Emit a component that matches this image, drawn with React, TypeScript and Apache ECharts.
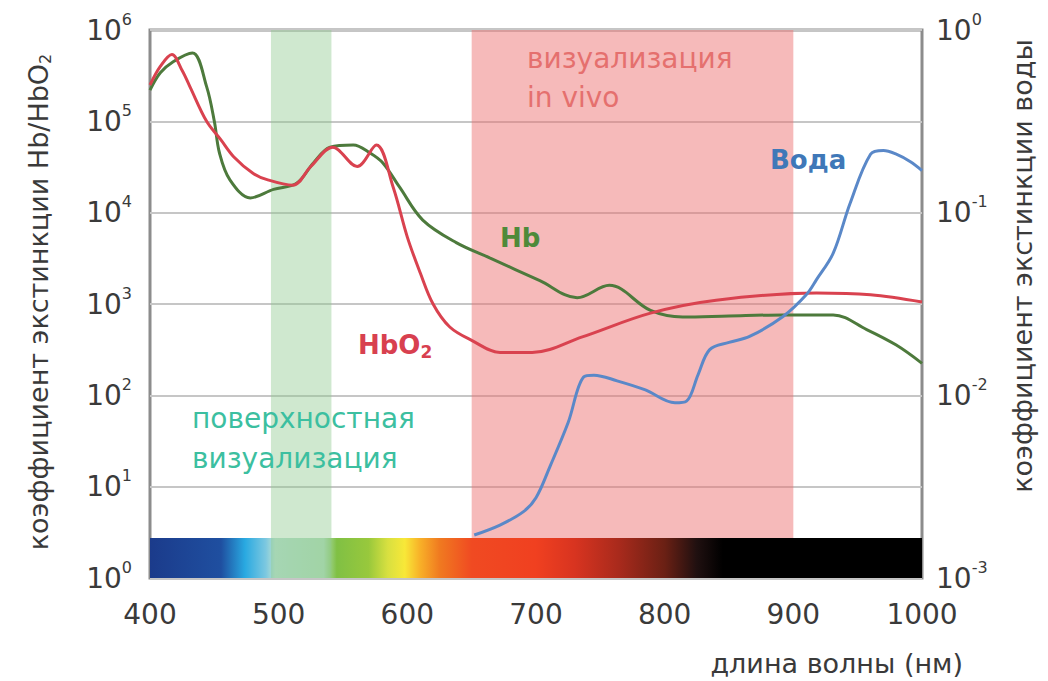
import React, { useEffect, useRef } from "react";
import * as echarts from "echarts";

// ---------- data ----------
const HB_NM = [400, 408, 418, 433, 444, 450, 454, 462, 478, 496, 514, 527, 540, 558, 571, 581, 594, 612, 638, 664, 703, 732, 757, 789, 814, 850, 892, 931, 957, 980, 1000];
const HB_VAL = [2.2e5, 3.4e5, 4.5e5, 5.6e5, 2.4e5, 1.0e5, 4.5e4, 2.3e4, 1.45e4, 1.8e4, 2.1e4, 3.5e4, 5.2e4, 5.5e4, 4.5e4, 3.5e4, 1.9e4, 8.3e3, 4.7e3, 3.2e3, 1.8e3, 1.17e3, 1.6e3, 850, 720, 740, 760, 760, 525, 355, 224];

const HBO2_NM = [400, 408, 417, 425, 431, 444, 455, 465, 480, 491, 511, 525, 542, 561, 576, 589, 600, 610, 620, 633, 650, 672, 697, 736, 789, 840, 918, 960, 1000];
const HBO2_VAL = [2.5e5, 4.0e5, 5.4e5, 3.6e5, 2.4e5, 1.0e5, 6.3e4, 4.1e4, 2.7e4, 2.3e4, 2.0e4, 3.2e4, 5.2e4, 3.2e4, 5.5e4, 1.9e4, 5.4e3, 2.2e3, 1.0e3, 560, 400, 295, 295, 436, 794, 1100, 1320, 1260, 1050];

const WATER_NM = [652, 672, 690, 700, 711, 725, 737, 745, 763, 785, 808, 817, 826, 835, 850, 866, 892, 910, 918, 931, 944, 960, 970, 980, 991, 1000];
const WATER_VAL = [1.72e-3, 1.95e-3, 2.3e-3, 2.75e-3, 4.1e-3, 7.1e-3, 1.26e-2, 1.29e-2, 1.2e-2, 1.07e-2, 9.1e-3, 9.3e-3, 1.3e-2, 1.78e-2, 1.95e-2, 2.1e-2, 2.7e-2, 3.55e-2, 4.3e-2, 6.0e-2, 0.112, 0.209, 0.219, 0.209, 0.19, 0.17];

const X_MIN = 400;
const X_MAX = 1000;
const Y_LEFT = [1, 1e6];
const Y_RIGHT = [1e-3, 1];
const SPECTRUM_TOP = 2.74; // top of the colour strip, in left-axis units
const SURFACE_BAND = [494, 541];
const INVIVO_BAND = [650, 900];

const SPECTRUM_STOPS: [number, string][] = [
  [0, "#1b3b8b"],
  [0.092, "#1f4fa0"],
  [0.123, "#29a9e1"],
  [0.15, "#7cc8e0"],
  [0.162, "#b8e0d0"],
  [0.225, "#b0dcb8"],
  [0.242, "#80c044"],
  [0.283, "#98c83c"],
  [0.308, "#d8e040"],
  [0.33, "#f8e838"],
  [0.35, "#f8b028"],
  [0.375, "#f07a20"],
  [0.417, "#f04a22"],
  [0.5, "#f04020"],
  [0.55, "#d83420"],
  [0.608, "#a82a1c"],
  [0.667, "#6a2014"],
  [0.708, "#201010"],
  [0.742, "#000000"],
  [1, "#000000"],
];

const FONT = "'DejaVu Sans', Verdana, sans-serif";
const TICK_COLOR = "#3a3a3a";
const TICK_SIZE = 28;
const NAME_SIZE = 27;
const NOTE_SIZE = 28;
const BOLD_SIZE = 26;

function zip(xs: number[], ys: number[]) {
  return xs.map((x, i) => [x, ys[i]]);
}

function powLabel(v: number) {
  const e = Math.round(Math.log10(v));
  return "{b|10}{s|" + (e < 0 ? "-" + Math.abs(e) : String(e)) + "}";
}

const labelRich = {
  b: { fontSize: TICK_SIZE, color: TICK_COLOR, fontFamily: FONT },
  s: { fontSize: 16, color: TICK_COLOR, fontFamily: FONT, padding: [0, 0, 22, 0] },
};

export default function App() {
  const ref = useRef<HTMLDivElement>(null);

  useEffect(() => {
    if (!ref.current) return;
    const chart = echarts.init(ref.current, undefined, { renderer: "svg" });

    const gradient = new echarts.graphic.LinearGradient(
      0, 0, 1, 0,
      SPECTRUM_STOPS.map(([offset, color]) => ({ offset, color }))
    );

    const lineBase = {
      type: "line",
      showSymbol: false,
      symbol: "none",
      smooth: 0.35,
      z: 2,
    };

    const option: any = {
      animation: false,
      backgroundColor: "#ffffff",
      grid: {
        left: 150,
        right: 126,
        top: 30,
        bottom: 103,
        show: true,
        borderColor: "#8c8c8c",
        borderWidth: 3,
        backgroundColor: "transparent",
      },
      xAxis: {
        type: "value",
        min: X_MIN,
        max: X_MAX,
        interval: 100,
        axisLine: { show: false },
        axisTick: { show: false },
        splitLine: { show: false },
        axisLabel: {
          fontSize: TICK_SIZE,
          color: TICK_COLOR,
          fontFamily: FONT,
          margin: 22,
          formatter: (v: number) => String(v),
        },
      },
      yAxis: [
        {
          type: "log",
          logBase: 10,
          min: Y_LEFT[0],
          max: Y_LEFT[1],
          splitNumber: 6,
          axisLine: { show: false },
          axisTick: { show: false },
          splitLine: { show: true, lineStyle: { color: "#c6c6c6", width: 2 } },
          axisLabel: { formatter: powLabel, rich: labelRich, margin: 18 },
        },
        {
          type: "log",
          logBase: 10,
          min: Y_RIGHT[0],
          max: Y_RIGHT[1],
          splitNumber: 3,
          position: "right",
          axisLine: { show: false },
          axisTick: { show: false },
          splitLine: { show: false },
          axisLabel: { formatter: powLabel, rich: labelRich, margin: 14 },
        },
      ],
      series: [
        {
          ...lineBase,
          name: "Hb",
          yAxisIndex: 0,
          data: zip(HB_NM, HB_VAL),
          lineStyle: { color: "#4d7a3c", width: 3 },
        },
        {
          ...lineBase,
          name: "HbO2",
          yAxisIndex: 0,
          data: zip(HBO2_NM, HBO2_VAL),
          lineStyle: { color: "#d9424f", width: 3 },
        },
        {
          ...lineBase,
          name: "Вода",
          yAxisIndex: 1,
          data: zip(WATER_NM, WATER_VAL),
          lineStyle: { color: "#5a88c8", width: 3 },
        },
        {
          name: "spectrum",
          type: "line",
          yAxisIndex: 0,
          data: [],
          silent: true,
          z: 3,
          markArea: {
            silent: true,
            itemStyle: { color: gradient, opacity: 1 },
            data: [[{ xAxis: X_MIN, yAxis: Y_LEFT[0] }, { xAxis: X_MAX, yAxis: SPECTRUM_TOP }]],
          },
        },
        {
          name: "bands",
          type: "line",
          yAxisIndex: 0,
          data: [],
          silent: true,
          z: 4,
          markArea: {
            silent: true,
            data: [
              [
                { xAxis: SURFACE_BAND[0], yAxis: Y_LEFT[0], itemStyle: { color: "rgba(140,200,140,0.42)" } },
                { xAxis: SURFACE_BAND[1], yAxis: Y_LEFT[1] },
              ],
              [
                { xAxis: INVIVO_BAND[0], yAxis: SPECTRUM_TOP, itemStyle: { color: "rgba(236,110,110,0.48)" } },
                { xAxis: INVIVO_BAND[1], yAxis: Y_LEFT[1] },
              ],
            ],
          },
        },
      ],
      graphic: [
        {
          type: "text", x: 527, y: 58, z: 10,
          style: { text: "визуализация", fill: "#e5706e", fontSize: NOTE_SIZE, fontFamily: FONT, verticalAlign: "middle", textVerticalAlign: "middle" },
        },
        {
          type: "text", x: 527, y: 97, z: 10,
          style: { text: "in vivo", fill: "#e5706e", fontSize: NOTE_SIZE, fontFamily: FONT, verticalAlign: "middle", textVerticalAlign: "middle" },
        },
        {
          type: "text", x: 770, y: 160, z: 10,
          style: { text: "Вода", fill: "#3f78b8", fontSize: BOLD_SIZE, fontWeight: "bold", fontFamily: FONT, verticalAlign: "middle", textVerticalAlign: "middle" },
        },
        {
          type: "text", x: 500, y: 238, z: 10,
          style: { text: "Hb", fill: "#4e8a3a", fontSize: BOLD_SIZE, fontWeight: "bold", fontFamily: FONT, verticalAlign: "middle", textVerticalAlign: "middle" },
        },
        {
          type: "text", x: 358, y: 345, z: 10,
          style: {
            text: "{a|HbO}{s|2}",
            fill: "#d8404f",
            fontFamily: FONT,
            verticalAlign: "middle",
            textVerticalAlign: "middle",
            rich: {
              a: { fontSize: BOLD_SIZE, fontWeight: "bold", fill: "#d8404f", fontFamily: FONT },
              s: { fontSize: 17, fontWeight: "bold", fill: "#d8404f", fontFamily: FONT, padding: [14, 0, 0, 0] },
            },
          },
        },
        {
          type: "text", x: 192, y: 418, z: 10,
          style: { text: "поверхностная", fill: "#3cbfa0", fontSize: NOTE_SIZE, fontFamily: FONT, verticalAlign: "middle", textVerticalAlign: "middle" },
        },
        {
          type: "text", x: 192, y: 458, z: 10,
          style: { text: "визуализация", fill: "#3cbfa0", fontSize: NOTE_SIZE, fontFamily: FONT, verticalAlign: "middle", textVerticalAlign: "middle" },
        },
        {
          type: "text", x: 963, y: 663, z: 10,
          style: { text: "длина волны (нм)", fill: TICK_COLOR, fontSize: NAME_SIZE, fontFamily: FONT, align: "right", textAlign: "right", verticalAlign: "middle", textVerticalAlign: "middle" },
        },
        {
          type: "text", x: 38, y: 302, rotation: Math.PI / 2, z: 10,
          style: {
            text: "{a|коэффициент экстинкции Hb/HbO}{s|2}",
            fill: TICK_COLOR,
            fontFamily: FONT,
            align: "center",
            textAlign: "center",
            verticalAlign: "middle",
            textVerticalAlign: "middle",
            rich: {
              a: { fontSize: NAME_SIZE, fill: TICK_COLOR, fontFamily: FONT },
              s: { fontSize: 16, fill: TICK_COLOR, fontFamily: FONT, padding: [14, 0, 0, 0] },
            },
          },
        },
        {
          type: "text", x: 1022, y: 266, rotation: Math.PI / 2, z: 10,
          style: {
            text: "коэффициент экстинкции воды",
            fill: TICK_COLOR,
            fontSize: NAME_SIZE,
            fontFamily: FONT,
            align: "center",
            textAlign: "center",
            verticalAlign: "middle",
            textVerticalAlign: "middle",
          },
        },
      ],
    };

    chart.setOption(option);
    return () => chart.dispose();
  }, []);

  return (
    <div
      ref={ref}
      style={{ position: "fixed", left: 0, top: 0, width: 1048, height: 681, background: "#fff" }}
    />
  );
}
